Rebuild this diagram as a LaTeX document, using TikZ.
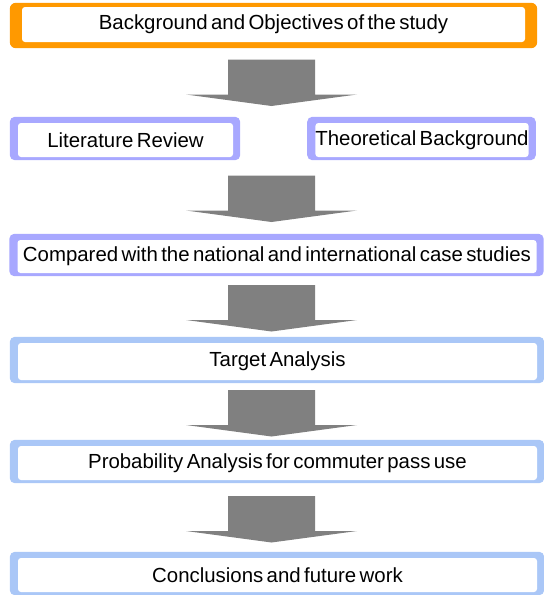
\documentclass[tikz,border=0pt]{standalone}
\usepackage{fontspec}
\setmainfont[WordSpace=0.6]{Liberation Sans}
\usetikzlibrary{calc,backgrounds}

\definecolor{orng}{RGB}{255,153,0}
\definecolor{purp}{RGB}{168,168,255}
\definecolor{lblue}{RGB}{170,199,247}
\definecolor{arrowgray}{RGB}{128,128,128}

\tikzset{
	box/.style={rectangle, fill=white, rounded corners=3pt, inner sep=0pt,
		font=\fontsize{20.4}{23}\selectfont},
	wide/.style={box, minimum width=519pt, minimum height=35pt}
}

\begin{document}
\begin{tikzpicture}[x=1pt,y=-1pt]
		\useasboundingbox (0,0) rectangle (544,595);
		\coordinate (ax) at (271.5,0);

		\draw (273.5,24.5) node [box, minimum width=503pt, minimum height=35pt] (bg) {Background and Objectives of the study};
		\draw (125.5,140) node [box, minimum width=215pt, minimum height=34pt] (lit) {Literature Review};
		\draw (422,140) node [box, minimum width=212pt, minimum height=34pt] (theo) {Theoretical Background};
		\draw (277,256.5) node [wide, minimum height=33pt] (cmp) {Compared with the national and international case studies};
		\draw (277.5,361.5) node [wide, minimum height=37pt] (tgt) {Target Analysis};
		\draw (277.5,463) node [wide, minimum height=34pt] (prob) {Probability Analysis for commuter pass use};
		\draw (277.5,575) node [wide, minimum height=34pt] (conc) {Conclusions and future work};

		% coloured frames behind the boxes
		\begin{scope}[on background layer]
			\fill[orng, rounded corners=6pt] ([shift={(-12,-4)}]bg.north west) rectangle ([shift={(12,6)}]bg.south east);
			\foreach \n/\c in {lit/purp, theo/purp, cmp/purp, tgt/lblue, prob/lblue, conc/lblue}
				\fill[\c, rounded corners=5pt] ([shift={(-8,-6)}]\n.north west) rectangle ([shift={(7,3)}]\n.south east);
		\end{scope}

		% block arrows
		\foreach \a/\b in {bg/lit, lit/cmp, cmp/tgt, tgt/prob, prob/conc} {
			\path ($(\a.south)!0.5!(\b.north)$) coordinate (m);
			\fill[arrowgray, shift={(ax |- m)}]
				(-43.5,-23) -- (43.5,-23) -- (43.5,12) -- (85.5,12) -- (0,23.5)
				-- (-85.5,12) -- (-43.5,12) -- cycle;
		}
	\end{tikzpicture}
\end{document}
